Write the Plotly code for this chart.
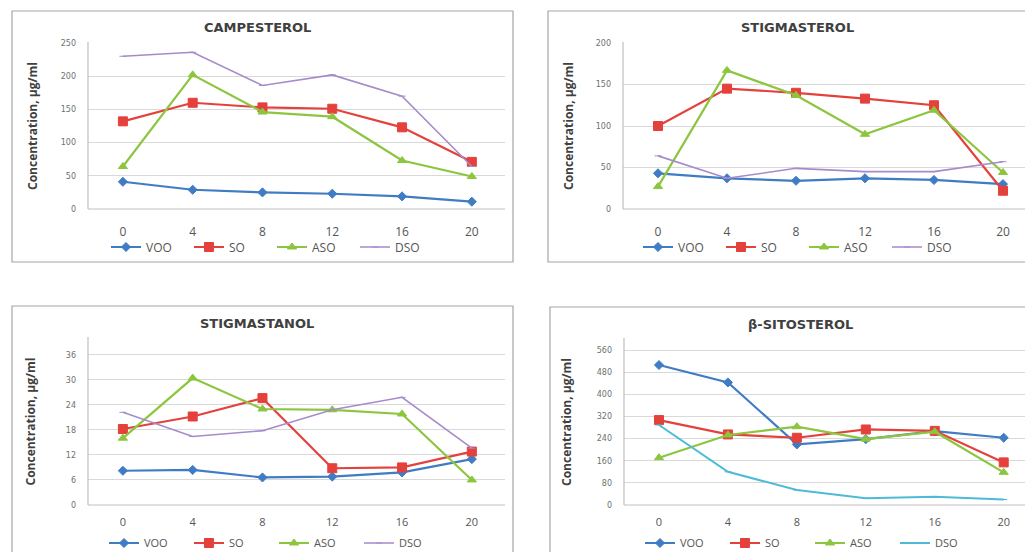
import plotly.graph_objects as go

# The page places the figure at an 8px body margin; coordinates below are
# reference-image pixels, converted with that offset.
OFF = 8
W, H = 1033 - OFF, 552 - OFF

days = [0, 4, 8, 12, 16, 20]
series_names = ["VOO", "SO", "ASO", "DSO"]

camp_voo = [41, 29, 25, 23, 19, 11]
camp_so = [132, 160, 153, 151, 123, 71]
camp_aso = [64, 202, 146, 139, 73, 49]
camp_dso = [230, 236, 186, 202, 170, 64]

stig_voo = [43, 37, 34, 37, 35, 30]
stig_so = [100, 145, 140, 133, 125, 22]
stig_aso = [27, 167, 137, 90, 119, 44]
stig_dso = [64, 37, 49, 45, 45, 57]

stan_voo = [8.2, 8.4, 6.6, 6.8, 7.8, 11.0]
stan_so = [18.2, 21.2, 25.6, 8.8, 9.0, 12.8]
stan_aso = [16.0, 30.4, 23.0, 22.8, 21.8, 6.0]
stan_dso = [22.2, 16.4, 17.8, 22.8, 25.8, 13.6]

sito_voo = [506, 443, 219, 238, 267, 243]
sito_so = [307, 255, 243, 273, 268, 154]
sito_aso = [171, 253, 283, 238, 265, 118]
sito_dso = [289, 120, 54, 24, 30, 20]

titles = ["CAMPESTEROL", "STIGMASTEROL", "STIGMASTANOL", "β-SITOSTEROL"]
panels = [
    [camp_voo, camp_so, camp_aso, camp_dso],
    [stig_voo, stig_so, stig_aso, stig_dso],
    [stan_voo, stan_so, stan_aso, stan_dso],
    [sito_voo, sito_so, sito_aso, sito_dso],
]
yranges = [(0, 250, 50), (0, 200, 50), (0, 40, 6), (0, 600, 80)]
ytickmax = [250, 200, 36, 560]

BLUE = "#3F7CC4"
RED = "#E5413C"
GREEN = "#8CC63E"
PURPLE = "#A68BCB"
CYAN = "#4DBBD6"

geo = [
    dict(l=88, r=505, t=43, b=209, xr=(-2.0, 21.9), box=(12, 513, 11, 262), title_x=257, title_y=28,
         leg_x=106, leg_y=247, yt_x=32, xso=14, xfs=12),
    dict(l=623, r=1033, t=43, b=209, xr=(-2.03, 21.74), box=(548, 1045, 11, 262), title_x=797, title_y=28,
         leg_x=638, leg_y=247, yt_x=568, xso=14, xfs=12),
    dict(l=88, r=505, t=338, b=505, xr=(-2.0, 21.9), box=(12, 513, 306, 560), title_x=257, title_y=323,
         leg_x=104, leg_y=543, yt_x=30, xso=9, xfs=11),
    dict(l=624, r=1033, t=339, b=505, xr=(-2.03, 21.7), box=(550, 1045, 307, 560), title_x=800, title_y=324,
         leg_x=640, leg_y=543, yt_x=566, xso=9, xfs=11),
]

def px(x):
    return (x - OFF) / W

def py(y):
    return 1 - (y - OFF) / H

fig = go.Figure()
shapes = []
annotations = []
layout_axes = {}

for i in range(4):
    g = geo[i]
    idx = "" if i == 0 else str(i + 1)
    xa = "x" + idx
    ya = "y" + idx
    leg = "legend" if i == 0 else "legend" + str(i + 1)
    dso_color = CYAN if i == 3 else PURPLE
    styles = [
        dict(color=BLUE, width=2.2, symbol="diamond", size=7),
        dict(color=RED, width=2.2, symbol="square", size=9),
        dict(color=GREEN, width=2.2, symbol="triangle-up", size=8),
        dict(color=dso_color, width=1.6 if i < 3 else 2.0, symbol="line-ew", size=5),
    ]
    for s, name in enumerate(series_names):
        st = styles[s]
        fig.add_trace(go.Scatter(
            x=days, y=panels[i][s], name=name, mode="lines+markers",
            line=dict(color=st["color"], width=st["width"]),
            marker=dict(symbol=st["symbol"], size=st["size"], color=st["color"],
                        line=dict(color=st["color"], width=1)),
            xaxis=xa, yaxis=ya, legend=leg, showlegend=True,
        ))
    lo, hi, dt = yranges[i]
    ticks = list(range(lo, ytickmax[i] + 1, dt))
    layout_axes["xaxis" + idx] = dict(
        domain=[max(0, px(g["l"])), min(1, px(g["r"]))], range=list(g["xr"]), anchor=ya,
        tickvals=days, ticktext=[str(d) for d in days], showgrid=False,
        zeroline=False, showline=False, ticks="",
        tickfont=dict(family="Open Sans", size=g["xfs"], color="#555555"),
        ticklabelstandoff=g["xso"], fixedrange=True,
    )
    layout_axes["yaxis" + idx] = dict(
        domain=[py(g["b"]), py(g["t"])], range=[lo, hi], anchor=xa,
        tickvals=ticks, showgrid=True, gridcolor="#D9D9D9", gridwidth=1.2,
        zeroline=False, showline=False, ticks="",
        tickfont=dict(family="DejaVu Sans", size=8, color="#707070"),
        ticklabelstandoff=11, fixedrange=True,
    )
    shapes.append(dict(type="line", xref="paper", yref="paper",
                       x0=px(g["l"]), x1=px(g["l"]), y0=py(g["b"]), y1=py(g["t"] - 1),
                       line=dict(color="#BFBFBF", width=1.2)))
    shapes.append(dict(type="line", xref="paper", yref="paper",
                       x0=px(g["l"]), x1=min(1, px(g["r"])), y0=py(g["b"]), y1=py(g["b"]),
                       line=dict(color="#BFBFBF", width=1.2)))
    bx0, bx1, by0, by1 = g["box"]
    shapes.append(dict(type="rect", xref="paper", yref="paper",
                       x0=px(bx0), x1=px(bx1), y0=py(by1), y1=py(by0),
                       line=dict(color="#A6A6A6", width=1.2), layer="below"))
    annotations.append(dict(text="<b>" + titles[i] + "</b>", xref="paper", yref="paper",
                            x=px(g["title_x"]), y=py(g["title_y"]), showarrow=False,
                            font=dict(family="DejaVu Sans", size=13, color="#404040"),
                            xanchor="center", yanchor="middle"))
    annotations.append(dict(text="<b>Concentration, µg/ml</b>", xref="paper", yref="paper",
                            x=px(g["yt_x"]), y=py((g["t"] + g["b"]) / 2), textangle=-90,
                            showarrow=False,
                            font=dict(family="Open Sans", size=12, color="#404040"),
                            xanchor="center", yanchor="middle"))
    layout_axes[leg] = dict(
        orientation="h", x=px(g["leg_x"]), y=py(g["leg_y"]), xanchor="left", yanchor="middle",
        font=dict(family="Open Sans", size=11 if i >= 2 else 12, color="#555555"),
        bgcolor="rgba(0,0,0,0)", itemwidth=30, tracegroupgap=0,
        entrywidth=40 if i >= 2 else 38, entrywidthmode="pixels",
    )

fig.update_layout(
    width=W, height=H, margin=dict(l=0, r=0, t=0, b=0, autoexpand=False),
    paper_bgcolor="white", plot_bgcolor="white",
    shapes=shapes, annotations=annotations, **layout_axes,
)

fig.write_html("out.html")
